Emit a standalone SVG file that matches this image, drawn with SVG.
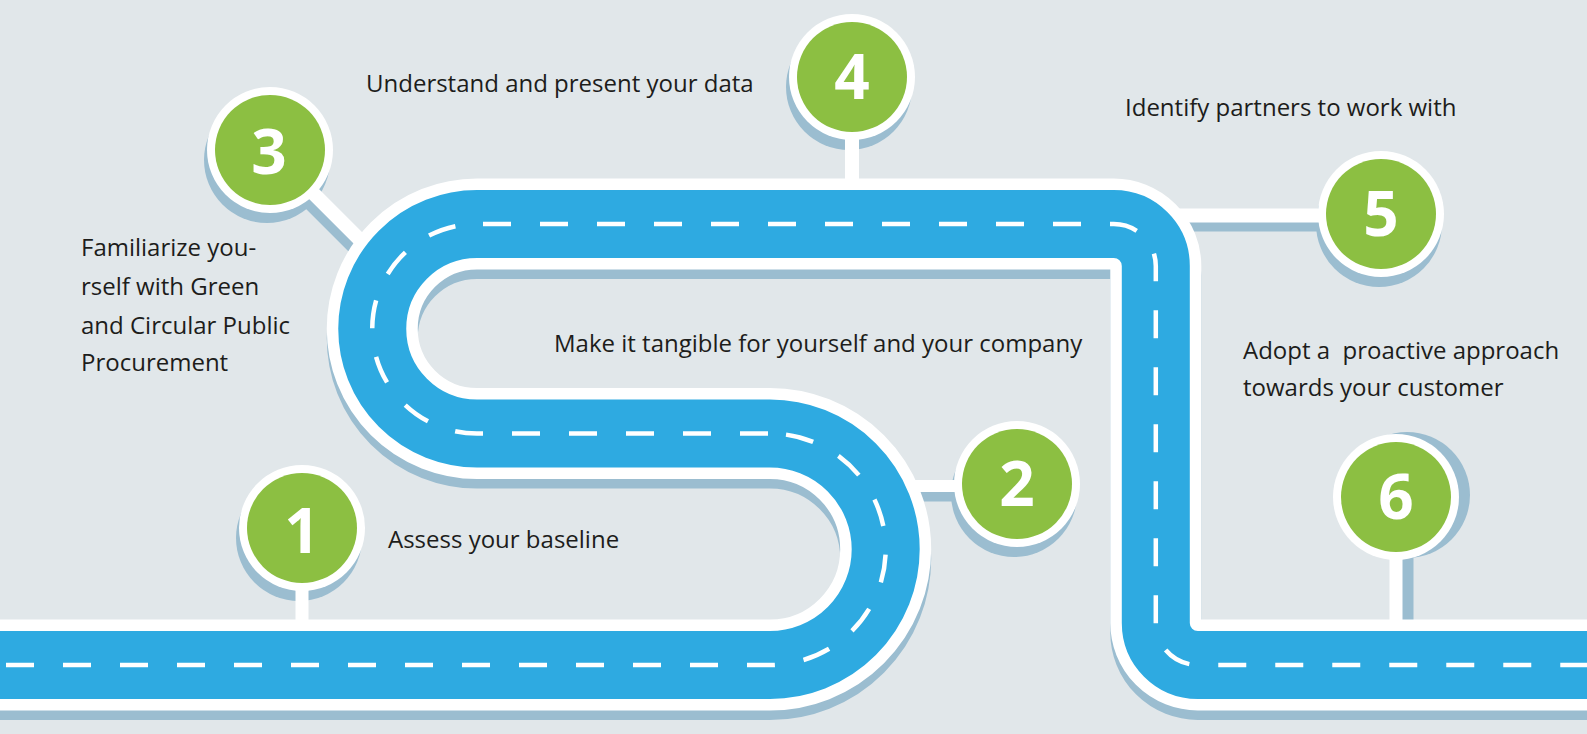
<svg xmlns="http://www.w3.org/2000/svg" width="1587" height="734" viewBox="0 0 1587 734">
<style>
.sh{fill:#9bbdd0}
.shl{stroke:#9bbdd0;fill:none}
.con{stroke:#fff;fill:none}
.rw{fill:none;stroke:#fff;stroke-width:91;stroke-linejoin:round}
.rb{fill:none;stroke:#2eaae1;stroke-width:68;stroke-linejoin:round}
.rs{fill:none;stroke:#9bbdd0;stroke-width:91;stroke-linejoin:round}
.dash{fill:none;stroke:#fff;stroke-width:4.5;stroke-dasharray:28 29}
.ring{fill:#fff}
.dot{fill:#8cbf42}
.num{font-family:"Open Sans","Liberation Sans",sans-serif;font-weight:700;font-size:62px;fill:#fff;text-anchor:middle}
.lbl{font-family:"Open Sans","Liberation Sans",sans-serif;font-size:24px;fill:#1d1d1b}
</style>
<defs>
<path id="road" d="M -20,665 H 770 A 115.75 115.75 0 0 0 770,433.5 H 477 A 104.75 104.75 0 0 1 477,224 H 1113.8 A 42 42 0 0 1 1155.8,266 V 623 A 42 42 0 0 0 1197.8,665 H 1610"/>
</defs>
<rect width="1587" height="734" fill="#e1e7ea"/>
<g id="shadows">
<use href="#road" class="rs" transform="translate(0,9.5)"/>
<circle class="sh" cx="299" cy="538" r="63"/>
<circle class="sh" cx="1014" cy="494" r="63"/>
<circle class="sh" cx="267" cy="160" r="63"/>
<circle class="sh" cx="849" cy="87" r="63"/>
<circle class="sh" cx="1379" cy="224" r="63"/>
<circle class="sh" cx="1407" cy="495" r="63"/>
<line class="shl" x1="890" y1="495.5" x2="1017" y2="495.5" stroke-width="12"/>
<line class="shl" x1="267" y1="160" x2="377" y2="270" stroke-width="14"/>
<line class="shl" x1="1160" y1="224.5" x2="1381" y2="224.5" stroke-width="14"/>
<line class="shl" x1="1407" y1="495" x2="1407" y2="628" stroke-width="13"/>
</g>
<g id="connectors">
<line class="con" x1="302" y1="528" x2="302" y2="640" stroke-width="13"/>
<line class="con" x1="890" y1="486" x2="1017" y2="486" stroke-width="12"/>
<line class="con" x1="270" y1="150" x2="380" y2="260" stroke-width="14"/>
<line class="con" x1="852" y1="77" x2="852" y2="200" stroke-width="14"/>
<line class="con" x1="1160" y1="215.5" x2="1381" y2="215.5" stroke-width="14"/>
<line class="con" x1="1396" y1="497" x2="1396" y2="640" stroke-width="13"/>
</g>
<g id="road-group">
<use href="#road" class="rw"/>
<use href="#road" class="rb"/>
<path class="dash" stroke-dashoffset="51" d="M 0,665 H 770 A 115.75 115.75 0 0 0 770,433.5"/>
<path class="dash" stroke-dashoffset="55" d="M 770,433.5 H 477 A 104.75 104.75 0 0 1 477,224"/>
<path class="dash" stroke-dashoffset="51" d="M 477,224 H 1113.8 A 42 42 0 0 1 1155.8,266 V 623 A 42 42 0 0 0 1197.8,665 H 1600"/>
</g>
<g id="step-1">
<circle class="ring" cx="302" cy="528" r="63"/>
<circle class="dot" cx="302" cy="528" r="55"/>
<text class="num" x="302" y="553">1</text>
<text class="lbl" x="388" y="548">Assess your baseline</text>
</g>
<g id="step-2">
<circle class="ring" cx="1017" cy="484" r="63"/>
<circle class="dot" cx="1017" cy="484" r="55"/>
<text class="num" x="1017" y="506">2</text>
<text class="lbl" x="554" y="352">Make it tangible for yourself and your company</text>
</g>
<g id="step-3">
<circle class="ring" cx="270" cy="150" r="63"/>
<circle class="dot" cx="270" cy="150" r="55"/>
<text class="num" x="269" y="174">3</text>
<text class="lbl" x="81" y="256">Familiarize you-</text>
<text class="lbl" x="81" y="295">rself with Green</text>
<text class="lbl" x="81" y="334">and Circular Public</text>
<text class="lbl" x="81" y="371">Procurement</text>
</g>
<g id="step-4">
<circle class="ring" cx="852" cy="77" r="63"/>
<circle class="dot" cx="852" cy="77" r="55"/>
<text class="num" x="852" y="99">4</text>
<text class="lbl" x="366" y="92">Understand and present your data</text>
</g>
<g id="step-5">
<circle class="ring" cx="1381" cy="214" r="63"/>
<circle class="dot" cx="1381" cy="214" r="55"/>
<text class="num" x="1381" y="236">5</text>
<text class="lbl" x="1125" y="116">Identify partners to work with</text>
</g>
<g id="step-6">
<circle class="ring" cx="1396" cy="497" r="63"/>
<circle class="dot" cx="1396" cy="497" r="55"/>
<text class="num" x="1396" y="519">6</text>
<text class="lbl" x="1243" y="359" xml:space="preserve">Adopt a  proactive approach</text>
<text class="lbl" x="1243" y="396">towards your customer</text>
</g>
</svg>
